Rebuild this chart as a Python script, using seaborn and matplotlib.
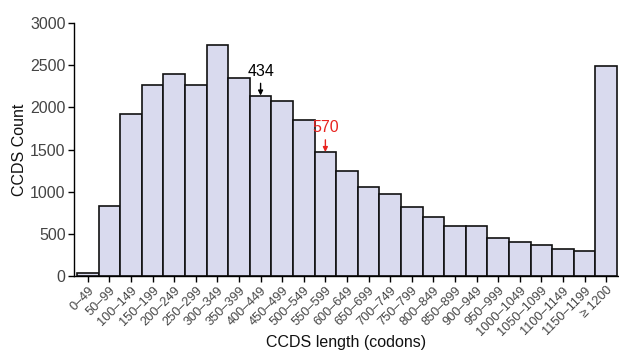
import matplotlib
matplotlib.use("Agg")
import matplotlib.pyplot as plt
import seaborn as sns
import pandas as pd

# === DATA ===
bins = ['0–49', '50–99', '100–149', '150–199', '200–249', '250–299', '300–349',
        '350–399', '400–449', '450–499', '500–549', '550–599', '600–649',
        '650–699', '700–749', '750–799', '800–849', '850–899', '900–949',
        '950–999', '1000–1049', '1050–1099', '1100–1149', '1150–1199', '≥ 1200']
counts = [35, 830, 1920, 2270, 2390, 2265, 2740, 2350, 2140, 2080, 1850, 1470,
          1240, 1050, 975, 815, 700, 590, 590, 445, 400, 365, 320, 300, 2490]

median_bin = '400–449'
median_label = '434'
mean_bin = '550–599'
mean_label = '570'

BAR_COLOR = '#d9daee'

sns.set_theme(style='ticks')
plt.rcParams['font.family'] = ['Liberation Sans', 'DejaVu Sans']

df = pd.DataFrame({'bin': bins, 'count': counts})

fig, ax = plt.subplots(figsize=(6.19, 3.5), dpi=100)
fig.subplots_adjust(left=74/619, right=618/619, top=1-23/350, bottom=1-276/350)

sns.barplot(data=df, x='bin', y='count', color=BAR_COLOR, saturation=1,
            edgecolor='#111111', linewidth=1.2, width=1.0, ax=ax)

ax.set_ylim(0, 3000)
ax.set_xlim(-0.64, len(bins) - 0.45)
ax.set_yticks(range(0, 3001, 500))
sns.despine(ax=ax)
for side in ['left', 'bottom']:
    ax.spines[side].set_linewidth(1.0)
    ax.spines[side].set_color('black')

ax.tick_params(axis='y', labelsize=11.5, labelcolor='#444444', length=4, width=1,
               color='black', pad=2)
ax.tick_params(axis='x', labelsize=9.2, labelcolor='#444444', length=4, width=1,
               color='black', pad=2)
plt.setp(ax.get_xticklabels(), rotation=45, ha='right', rotation_mode='anchor')

ax.set_xlabel('CCDS length (codons)', fontsize=11.5, color='#111111', va='center')
ax.xaxis.set_label_coords(0.5, -0.262)
ax.set_ylabel('CCDS Count', fontsize=11.5, color='#111111', labelpad=2)

# annotations
i_med = bins.index(median_bin)
ax.annotate(median_label, xy=(i_med, counts[i_med]), xytext=(i_med, counts[i_med] + 200),
            ha='center', va='bottom', fontsize=11.5, color='black',
            arrowprops=dict(arrowstyle='-|>', color='black', lw=1, mutation_scale=7,
                            shrinkA=1, shrinkB=0))
i_mean = bins.index(mean_bin)
ax.annotate(mean_label, xy=(i_mean, counts[i_mean]), xytext=(i_mean, counts[i_mean] + 200),
            ha='center', va='bottom', fontsize=11.5, color='#e8231f',
            arrowprops=dict(arrowstyle='-|>', color='#e8231f', lw=1, mutation_scale=7,
                            shrinkA=1, shrinkB=0))

fig.savefig('out.png', dpi=100)
